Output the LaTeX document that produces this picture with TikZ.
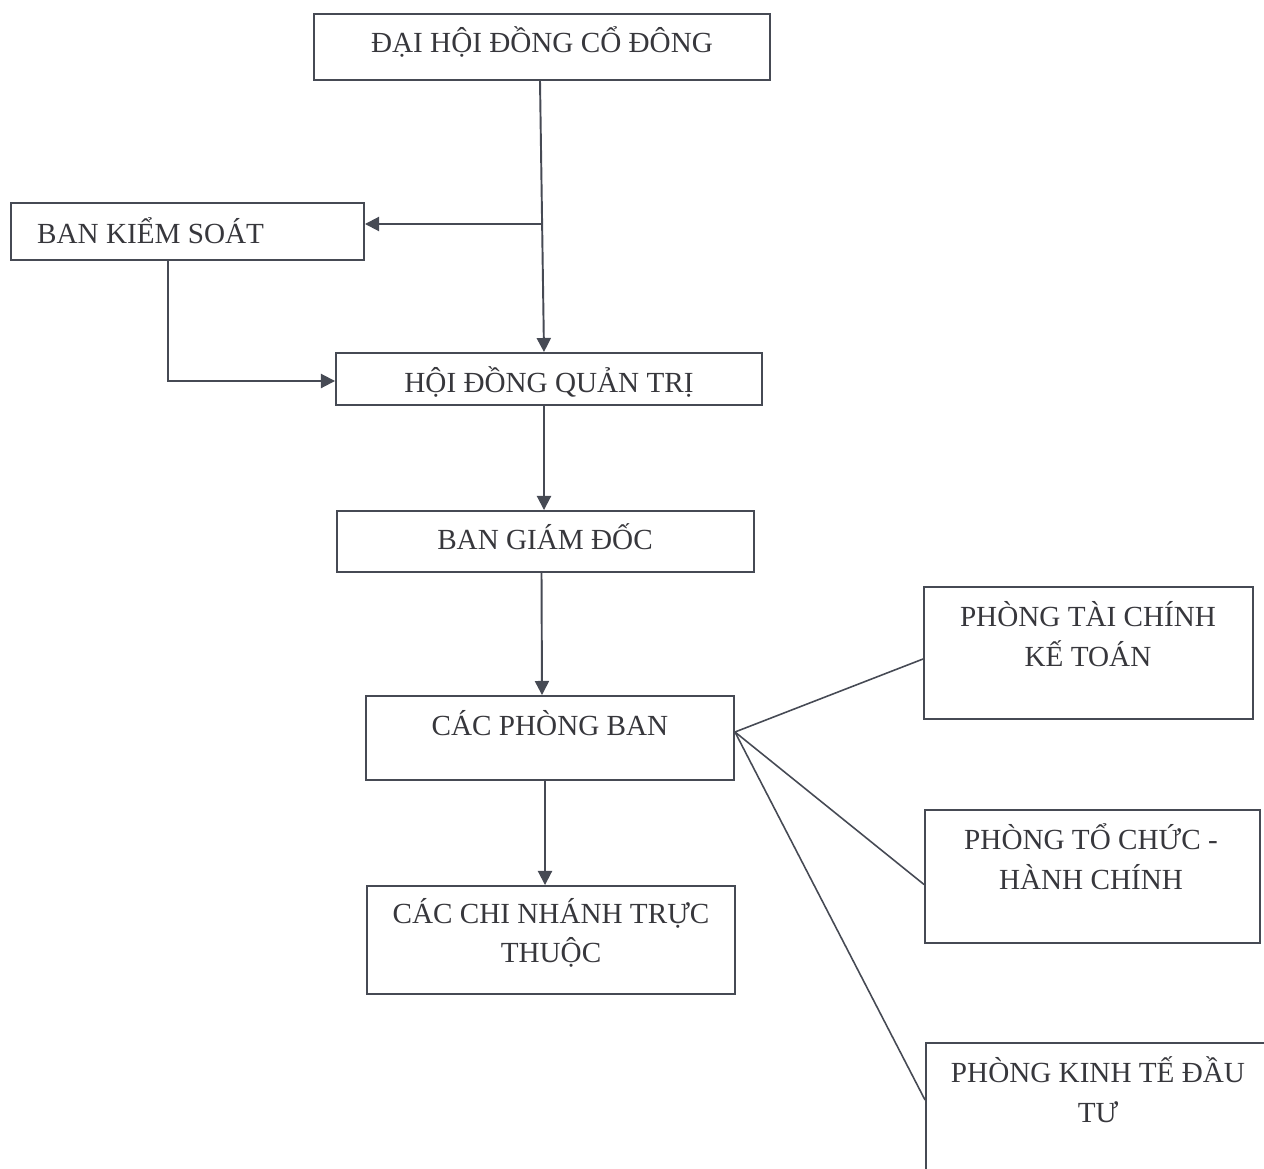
\documentclass[tikz,border=0pt]{standalone}
\usepackage{fontspec}
\setmainfont{Liberation Serif}
\usetikzlibrary{arrows.meta}
\definecolor{lnc}{RGB}{70,74,84}
\definecolor{txc}{RGB}{55,55,60}
\tikzset{
  box/.style={draw=lnc,line width=1.1pt,inner sep=0pt},
  txt/.style={text=txc,align=center,font=\fontsize{16.6}{22.6}\selectfont},
  arr/.style={draw=lnc,line width=1.1pt,-{Triangle[length=8pt,width=8pt]}},
  ln/.style={draw=lnc,line width=0.9pt}
}
\begin{document}
\begin{tikzpicture}[x=0.02cm,y=-0.02cm]
        \useasboundingbox (0,0) rectangle (1264,1169);
        \node[box,minimum width=456*0.02cm,minimum height=66*0.02cm] (dhdcd) at (542,47) {};
        \node[box,minimum width=353*0.02cm,minimum height=57*0.02cm] (bks) at (187.5,231.5) {};
        \node[box,minimum width=426*0.02cm,minimum height=52*0.02cm] (hdqt) at (549,379) {};
        \node[box,minimum width=417*0.02cm,minimum height=61*0.02cm] (bgd) at (545.5,541.5) {};
        \node[box,minimum width=368*0.02cm,minimum height=84*0.02cm] (cpb) at (550,738) {};
        \node[box,minimum width=368*0.02cm,minimum height=108*0.02cm] (ccntt) at (551,940) {};
        \node[box,minimum width=329*0.02cm,minimum height=132*0.02cm] (ptckt) at (1088.5,653) {};
        \node[box,minimum width=335*0.02cm,minimum height=133*0.02cm] (ptchc) at (1092.5,876.5) {};
        \node[box,minimum width=342*0.02cm,minimum height=160*0.02cm] (pktdt) at (1097,1123) {};
        \node[txt] (t1) at (542,42) {ĐẠI HỘI ĐỒNG CỔ ĐÔNG};
        \node[txt,anchor=west] (t2) at (31,231) {BAN KIỂM SOÁT};
        \node[txt] (t3) at (549,382) {HỘI ĐỒNG QUẢN TRỊ};
        \node[txt] (t4) at (545,537) {BAN GIÁM ĐỐC};
        \node[txt] (t5) at (550,723) {CÁC PHÒNG BAN};
        \node[txt] (t6) at (551,933) {CÁC CHI NHÁNH TRỰC\\THUỘC};
        \node[txt] (t7) at (1088,634) {PHÒNG TÀI CHÍNH\\KẾ TOÁN};
        \node[txt] (t8) at (1091,857) {PHÒNG TỔ CHỨC -\\HÀNH CHÍNH};
        \node[txt] (t9) at (1098,1090) {PHÒNG KINH TẾ ĐẦU\\TƯ};
        \coordinate (j) at (541,224);
        \draw[arr] ([shift={(-2,0)}]dhdcd.south) -- ([shift={(-5,0)}]hdqt.north);
        \draw[arr] (j) -- (j -| bks.east);
        \draw[arr] ([shift={(-19.5,0)}]bks.south) |- ([shift={(0,2)}]hdqt.west);
        \draw[arr] ([shift={(-1.5,0)}]bgd.north |- hdqt.south) -- ([shift={(-1.5,0)}]bgd.north);
        \draw[arr] ([shift={(-4,0)}]bgd.south) -- ([shift={(-8,0)}]cpb.north);
        \draw[arr] ([shift={(-5,0)}]cpb.south) -- ([shift={(-6,0)}]ccntt.north);
        \coordinate (c) at ([shift={(0,-6)}]cpb.east);
        \draw[ln] (c) -- ([shift={(0,6)}]ptckt.west);
        \draw[ln] (c) -- ([shift={(0,8)}]ptchc.west);
        \draw[ln] (c) -- ([shift={(0,-23)}]pktdt.west);
    \end{tikzpicture}
\end{document}
